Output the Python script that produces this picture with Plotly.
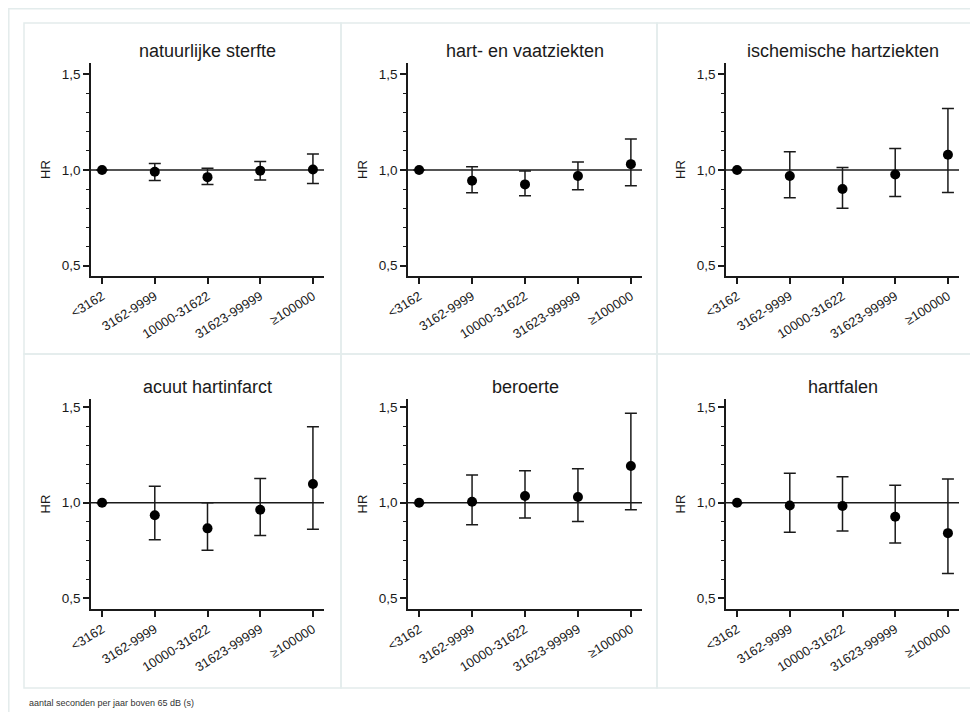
import plotly.graph_objects as go
from plotly.subplots import make_subplots

# ---------------- data ----------------
categories = ["<3162", "3162-9999", "10000-31622", "31623-99999", "≥100000"]
panel_titles = ["natuurlijke sterfte", "hart- en vaatziekten", "ischemische hartziekten",
                "acuut hartinfarct", "beroerte", "hartfalen"]
y_tick_values = [0.5, 1.0, 1.5]
y_tick_labels = ["0,5", "1,0", "1,5"]
y_title = "HR"
footnote = "aantal seconden per jaar boven 65 dB (s)"

natuurlijke_hr = [1.0, 0.991, 0.963, 0.997, 1.003]
natuurlijke_lo = [1.0, 0.946, 0.925, 0.948, 0.930]
natuurlijke_hi = [1.0, 1.035, 1.009, 1.045, 1.084]

hartvaat_hr = [1.0, 0.944, 0.925, 0.969, 1.031]
hartvaat_lo = [1.0, 0.882, 0.866, 0.897, 0.918]
hartvaat_hi = [1.0, 1.017, 0.995, 1.042, 1.162]

ischemisch_hr = [1.0, 0.969, 0.901, 0.977, 1.080]
ischemisch_lo = [1.0, 0.855, 0.800, 0.862, 0.883]
ischemisch_hi = [1.0, 1.096, 1.014, 1.113, 1.322]

infarct_hr = [1.0, 0.935, 0.866, 0.963, 1.098]
infarct_lo = [1.0, 0.806, 0.752, 0.829, 0.862]
infarct_hi = [1.0, 1.087, 1.000, 1.127, 1.398]

beroerte_hr = [1.0, 1.005, 1.035, 1.030, 1.192]
beroerte_lo = [1.0, 0.885, 0.920, 0.902, 0.963]
beroerte_hi = [1.0, 1.145, 1.168, 1.178, 1.469]

hartfalen_hr = [1.0, 0.986, 0.983, 0.927, 0.841]
hartfalen_lo = [1.0, 0.846, 0.852, 0.789, 0.630]
hartfalen_hi = [1.0, 1.154, 1.136, 1.091, 1.124]

series = [
    (natuurlijke_hr, natuurlijke_lo, natuurlijke_hi),
    (hartvaat_hr, hartvaat_lo, hartvaat_hi),
    (ischemisch_hr, ischemisch_lo, ischemisch_hi),
    (infarct_hr, infarct_lo, infarct_hi),
    (beroerte_hr, beroerte_lo, beroerte_hi),
    (hartfalen_hr, hartfalen_lo, hartfalen_hi),
]

# ---------------- layout helpers (page pixels) ----------------
W, H = 968, 704
OFF = 8  # browser body margin


def xp(px):
    return (px - OFF) / W


def yp(py):
    return 1 - (py - OFF) / H


col_px = [(91, 324), (408, 642), (726, 959)]
row_px = [(63, 276), (399, 609)]
row_ranges = [[0.446, 1.560], [0.444, 1.543]]
panel_cols = [(24, 341), (341, 657), (657, 974)]
panel_rows = [(23, 354), (354, 688)]

FONT = "Liberation Sans, Arial, sans-serif"
INK = "#1a1a1a"
BORDER = "#e3ecec"

fig = make_subplots(rows=2, cols=3)

x_idx = list(range(len(categories)))
tick_text = [c.replace("<", "&lt;") for c in categories]

for i, (hr, lo, hi) in enumerate(series):
    r, c = divmod(i, 3)
    fig.add_trace(
        go.Scatter(
            x=x_idx, y=hr, mode="markers",
            marker=dict(color="black", size=10),
            error_y=dict(type="data", symmetric=False,
                         array=[h - v for h, v in zip(hi, hr)],
                         arrayminus=[v - l for v, l in zip(hr, lo)],
                         color=INK, thickness=1.5, width=6),
            showlegend=False, hoverinfo="skip",
        ),
        row=r + 1, col=c + 1,
    )

    ax = "" if i == 0 else str(i + 1)
    fig.update_layout(**{
        f"xaxis{ax}": dict(
            domain=[xp(col_px[c][0]), xp(col_px[c][1])],
            range=[-0.21, len(categories) - 1 + 0.21],
            tickvals=x_idx, ticktext=tick_text, tickangle=-32,
            ticks="outside", ticklen=6, tickwidth=1.5, tickcolor=INK,
            showline=True, linecolor=INK, linewidth=1.5,
            showgrid=False, zeroline=False, automargin=False,
            tickfont=dict(family=FONT, size=13, color=INK),
        ),
        f"yaxis{ax}": dict(
            domain=[yp(row_px[r][1]), yp(row_px[r][0])],
            range=row_ranges[r],
            tickvals=y_tick_values, ticktext=y_tick_labels,
            ticks="outside", ticklen=6, tickwidth=1.5, tickcolor=INK,
            minor=dict(tick0=0.5, dtick=0.1, ticks="outside", ticklen=3,
                       tickwidth=1, tickcolor=INK),
            showline=True, linecolor=INK, linewidth=1.5,
            showgrid=False, zeroline=False, automargin=False,
            tickfont=dict(family=FONT, size=13.5, color=INK),
            title=dict(text=y_title, standoff=8,
                       font=dict(family=FONT, size=13, color=INK)),
        ),
    })

    # reference line at HR = 1
    xa = "x" if i == 0 else f"x{i + 1}"
    ya = "y" if i == 0 else f"y{i + 1}"
    fig.add_shape(type="line", xref=f"{xa} domain", yref=ya,
                  x0=0, x1=1, y0=1.0, y1=1.0,
                  line=dict(color=INK, width=1.5), layer="below")

    # panel title
    fig.add_annotation(
        text=panel_titles[i], showarrow=False,
        xref="paper", yref="paper",
        x=xp((col_px[c][0] + col_px[c][1]) / 2),
        y=yp(row_px[r][0] - 12), yanchor="middle", xanchor="center",
        font=dict(family=FONT, size=18, color=INK),
    )

    # panel border
    fig.add_shape(type="rect", xref="paper", yref="paper",
                  x0=xp(panel_cols[c][0]), x1=xp(panel_cols[c][1]),
                  y0=yp(panel_rows[r][1]), y1=yp(panel_rows[r][0]),
                  line=dict(color=BORDER, width=1.5), layer="below")

# outer frame
fig.add_shape(type="rect", xref="paper", yref="paper",
              x0=xp(8.8), x1=xp(1000), y0=yp(760), y1=yp(8.8),
              line=dict(color=BORDER, width=1.5), layer="below")

fig.add_annotation(
    text=footnote, showarrow=False, xref="paper", yref="paper",
    x=xp(27), y=yp(703), xanchor="left", yanchor="middle",
    font=dict(family=FONT, size=9, color="#333333"),
)

fig.update_layout(
    width=W, height=H,
    margin=dict(l=0, r=0, t=0, b=0),
    paper_bgcolor="white", plot_bgcolor="white",
    font=dict(family=FONT, color=INK),
)

fig.write_html("out.html")
